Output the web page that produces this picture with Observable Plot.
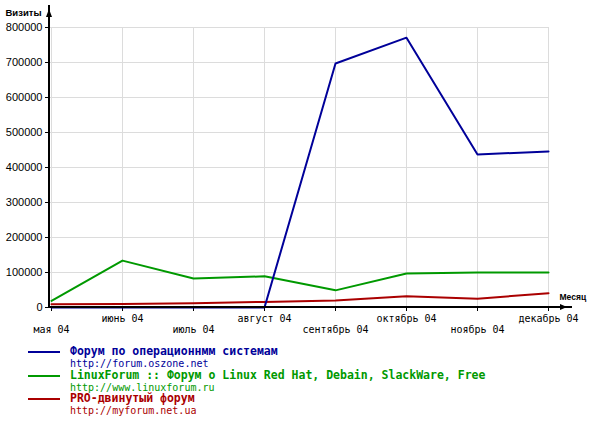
<!DOCTYPE html>
<html>
<head>
<meta charset="utf-8">
<script src="https://cdn.jsdelivr.net/npm/d3@7"></script>
<script src="https://cdn.jsdelivr.net/npm/@observablehq/plot@0.6"></script>
<style>
  html, body { margin: 0; padding: 0; background: #fff; }
  #wrap { position: relative; width: 594px; height: 424px; background: #fff; }
  #legend { position: absolute; left: 0; top: 340px; width: 594px; height: 84px; }
  .item { position: absolute; left: 0; width: 594px; }
  .swatch { position: absolute; left: 28px; width: 32px; height: 0; border-top: 2px solid; }
  .title { position: absolute; left: 70px; font: bold 11.5px "DejaVu Sans Mono", monospace; white-space: nowrap; }
  .url { position: absolute; left: 70px; font: 10px "DejaVu Sans Mono", monospace; white-space: nowrap; }
</style>
</head>
<body>
<div id="wrap"><div id="chart"></div><div id="legend"></div></div>
<script>
const months = ["мая 04", "июнь 04", "июль 04", "август 04", "сентябрь 04", "октябрь 04", "ноябрь 04", "декабрь 04"];
const osZone = [0, 0, 0, 0, 697000, 771000, 437000, 446000];
const linuxForum = [19000, 134000, 83000, 89000, 49000, 97000, 100000, 100000];
const proForum = [9000, 10000, 12000, 16000, 20000, 32000, 25000, 41000];
const yTicks = [0, 100000, 200000, 300000, 400000, 500000, 600000, 700000, 800000];
const seriesNames = ["Форум по операционнмм системам", "LinuxForum :: Форум о Linux Red Hat, Debain, SlackWare, Free", "PRO-двинутый форум"];
const seriesUrls = ["http://forum.oszone.net", "http://www.linuxforum.ru", "http://myforum.net.ua"];
const seriesColors = ["#000099", "#009900", "#aa0000"];
const yLabel = "Визиты";
const xLabel = "Месяц";

const seriesValues = [osZone, linuxForum, proForum];
const rows = seriesValues.map((vals, s) => vals.map((v, i) => ({month: months[i], value: v, series: seriesNames[s]})));

const oddMonths = months.filter((d, i) => i % 2 === 1);
const evenMonths = months.filter((d, i) => i % 2 === 0);
const monoFont = "DejaVu Sans Mono";

const chart = Plot.plot({
  width: 594,
  height: 340,
  marginLeft: 49,
  marginRight: 45,
  marginTop: 27,
  marginBottom: 33,
  style: {background: "#fff", color: "#000"},
  x: {type: "point", domain: months, padding: 0, axis: null},
  y: {type: "linear", domain: [0, 800000], axis: null},
  color: {domain: seriesNames, range: seriesColors},
  marks: [
    Plot.gridX(months, {stroke: "#dcdcdc", strokeOpacity: 1, strokeWidth: 1}),
    Plot.gridY(yTicks, {stroke: "#dcdcdc", strokeOpacity: 1, strokeWidth: 1}),
    Plot.axisY(yTicks, {tickSize: 4, tickPadding: 3, tickFormat: d3.format("d"), fontFamily: "Liberation Sans", fontSize: 11, label: null, strokeWidth: 1}),
    Plot.axisX(oddMonths, {tickSize: 4, tickPadding: 3, fontFamily: monoFont, fontSize: 10, label: null}),
    Plot.axisX(evenMonths, {tickSize: 4, tickPadding: 14, fontFamily: monoFont, fontSize: 10, label: null}),
    Plot.line(rows[1], {x: "month", y: "value", stroke: "series", strokeWidth: 2}),
    Plot.line(rows[2], {x: "month", y: "value", stroke: "series", strokeWidth: 2}),
    Plot.line(rows[0], {x: "month", y: "value", stroke: "series", strokeWidth: 2}),
    Plot.text([yLabel], {frameAnchor: "top-left", text: d => d, dx: -44, dy: -15, textAnchor: "start", lineAnchor: "middle", fontFamily: "Liberation Sans", fontWeight: "bold", fontSize: 9.5}),
    Plot.text([xLabel], {frameAnchor: "bottom-right", text: d => d, dx: 10, dy: -10, textAnchor: "start", lineAnchor: "middle", fontFamily: "Liberation Sans", fontWeight: "bold", fontSize: 8.5})
  ]
});

// axis lines with arrow heads
const xs = chart.scale("x"), ys = chart.scale("y");
const x0 = xs.range[0], y0 = ys.apply(0);
const g = d3.select(chart).append("g");
g.append("line").attr("x1", x0).attr("x2", x0).attr("y1", y0 + 1).attr("y2", 5).attr("stroke", "#000").attr("stroke-width", 2);
g.append("polygon").attr("points", `${x0 - 3},17 ${x0 + 3},17 ${x0},9`).attr("fill", "#000");
g.append("line").attr("x1", x0 - 1).attr("x2", 572).attr("y1", y0).attr("y2", y0).attr("stroke", "#000").attr("stroke-width", 2);
g.append("polygon").attr("points", `560,${y0 - 3} 560,${y0 + 3} 567,${y0}`).attr("fill", "#000");

document.getElementById("chart").appendChild(chart);

// legend
const legend = document.getElementById("legend");
const rowTops = [12, 35.5, 59];
seriesNames.forEach((name, i) => {
  const item = document.createElement("div");
  item.className = "item";
  item.style.top = rowTops[i] + "px";
  const sw = document.createElement("div");
  sw.className = "swatch"; sw.style.borderTopColor = seriesColors[i]; sw.style.top = "-1px";
  const t = document.createElement("div");
  t.className = "title"; t.style.color = seriesColors[i]; t.style.top = "-8px"; t.textContent = name;
  const u = document.createElement("div");
  u.className = "url"; u.style.color = seriesColors[i]; u.style.top = "6px"; u.textContent = seriesUrls[i];
  item.append(sw, t, u);
  legend.appendChild(item);
});
</script>
</body>
</html>
